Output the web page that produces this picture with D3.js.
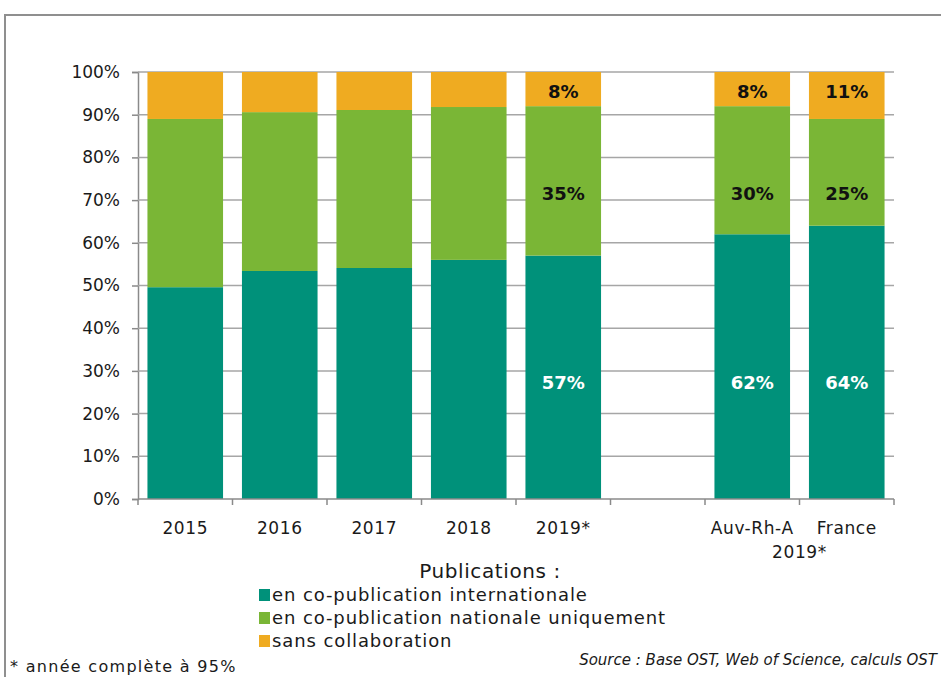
<!DOCTYPE html>
<html>
<head>
<meta charset="utf-8">
<script src="https://cdn.jsdelivr.net/npm/d3@7"></script>
<style>
  html, body { margin: 0; padding: 0; background: #fff; }
  svg { display: block; }
</style>
</head>
<body>
<svg id="chart" width="941" height="677"></svg>
<script>
// Categories (an empty slot separates the yearly series from the 2019 comparison)
const categories = ["2015", "2016", "2017", "2018", "2019*", "", "Auv-Rh-A", "France"];
// Share of publications per collaboration type (%)
const international = [49.6, 53.4, 54.1, 56.0, 57, null, 62, 64];
const nationale     = [39.4, 37.2, 37.0, 35.8, 35, null, 30, 25];
const sansCollab    = [11.0,  9.4,  8.9,  8.2,  8, null,  8, 11];
// Which categories carry value labels
const labelled = [false, false, false, false, true, false, true, true];
const seriesNames = ["en co-publication internationale", "en co-publication nationale uniquement", "sans collaboration"];
const yTicks = [0, 10, 20, 30, 40, 50, 60, 70, 80, 90, 100];

(function () {
  const colors = ["#00917A", "#7AB636", "#EFAB21"];
  const labelColors = ["#ffffff", "#111111", "#111111"];
  // vertical anchor of the value labels for each series, in axis units
  const labelRow = [27.2, 71.4, 95.5];
  const font = "'DejaVu Sans', sans-serif";

  const svg = d3.select("#chart");
  const plotLeft = 138, plotRight = 894, plotTop = 72, plotBottom = 499;

  const x = d3.scaleBand().domain(d3.range(categories.length)).range([plotLeft, plotRight])
    .paddingInner(0.2).paddingOuter(0.1);
  const y = d3.scaleLinear().domain([0, 100]).range([plotBottom, plotTop]);

  // outer frame
  svg.append("path")
    .attr("d", "M5,677 V15 H941")
    .attr("fill", "none").attr("stroke", "#8f8f8f").attr("stroke-width", 2);

  // y axis
  const yAxis = d3.axisLeft(y).tickValues(yTicks).tickSize(6).tickFormat(d => d + "%");
  const gy = svg.append("g").attr("transform", `translate(${plotLeft},0)`).call(yAxis);
  gy.select(".domain").attr("stroke", "#8a8a8a").attr("stroke-width", 1.5);
  gy.selectAll(".tick line").attr("stroke", "#8a8a8a").attr("stroke-width", 1.5);
  gy.selectAll(".tick text").attr("font-family", font).attr("font-size", 17).attr("fill", "#1a1a1a").attr("x", -18);

  // horizontal gridlines
  svg.append("g").selectAll("line").data(yTicks.filter(d => d > 0)).join("line")
    .attr("x1", plotLeft).attr("x2", plotRight)
    .attr("y1", d => y(d)).attr("y2", d => y(d))
    .attr("stroke", "#a6a6a6").attr("stroke-width", 1.5);

  // stacked bars
  const rows = categories.map((c, i) => ({ i, v: [international[i], nationale[i], sansCollab[i]] }));
  const stack = d3.stack().keys([0, 1, 2]).value((d, k) => d.v[k] || 0);
  const layers = stack(rows.filter(r => r.v[0] !== null));

  layers.forEach((layer, k) => {
    svg.append("g").selectAll("rect").data(layer).join("rect")
      .attr("x", d => x(d.data.i))
      .attr("width", x.bandwidth())
      .attr("y", d => y(d[1]))
      .attr("height", d => y(d[0]) - y(d[1]))
      .attr("fill", colors[k]);
  });

  // x axis line and ticks at slot boundaries
  svg.append("line").attr("x1", plotLeft).attr("x2", plotRight).attr("y1", plotBottom).attr("y2", plotBottom)
    .attr("stroke", "#8a8a8a").attr("stroke-width", 1.5);
  const bounds = d3.range(categories.length + 1).map(i => plotLeft + i * x.step());
  svg.append("g").selectAll("line").data(bounds).join("line")
    .attr("x1", d => d).attr("x2", d => d)
    .attr("y1", plotBottom).attr("y2", plotBottom + 6)
    .attr("stroke", "#8a8a8a").attr("stroke-width", 1.5);

  svg.append("g").selectAll("text").data(categories).join("text")
    .attr("x", (d, i) => x(i) + x.bandwidth() / 2)
    .attr("y", 534)
    .attr("text-anchor", "middle")
    .attr("font-family", font).attr("font-size", 17).attr("letter-spacing", 0.6).attr("fill", "#1a1a1a")
    .text(d => d);

  svg.append("text")
    .attr("x", (x(6) + x(7) + x.bandwidth()) / 2).attr("y", 558)
    .attr("text-anchor", "middle")
    .attr("font-family", font).attr("font-size", 17).attr("letter-spacing", 0.6).attr("fill", "#1a1a1a")
    .text("2019*");

  // value labels
  layers.forEach((layer, k) => {
    svg.append("g").selectAll("text").data(layer.filter(d => labelled[d.data.i])).join("text")
      .attr("x", d => x(d.data.i) + x.bandwidth() / 2)
      .attr("y", y(labelRow[k]))
      .attr("dy", "0.35em")
      .attr("text-anchor", "middle")
      .attr("font-family", font).attr("font-size", 18).attr("font-weight", "bold")
      .attr("fill", labelColors[k])
      .text(d => Math.round(d.data.v[k]) + "%");
  });

  // legend
  svg.append("text").attr("x", 490).attr("y", 578).attr("text-anchor", "middle")
    .attr("font-family", font).attr("font-size", 20).attr("letter-spacing", 0.6).attr("fill", "#1a1a1a")
    .text("Publications :");
  const lg = svg.append("g").selectAll("g").data(seriesNames).join("g")
    .attr("transform", (d, i) => `translate(259,${595 + i * 23})`);
  lg.append("rect").attr("x", 0).attr("y", -6).attr("width", 11).attr("height", 12).attr("fill", (d, i) => colors[i]);
  lg.append("text").attr("x", 13).attr("y", 0).attr("dy", "0.35em")
    .attr("font-family", font).attr("font-size", 18).attr("letter-spacing", 0.9).attr("fill", "#1a1a1a")
    .text(d => d);

  // notes
  svg.append("text").attr("x", 937).attr("y", 665).attr("text-anchor", "end")
    .attr("font-family", font).attr("font-size", 15).attr("font-style", "italic").attr("fill", "#1a1a1a")
    .text("Source : Base OST, Web of Science, calculs OST");
  svg.append("text").attr("x", 10).attr("y", 672).attr("text-anchor", "start")
    .attr("font-family", font).attr("font-size", 16).attr("letter-spacing", 1.3).attr("fill", "#1a1a1a")
    .text("* année complète à 95%");
})();
</script>
</body>
</html>
